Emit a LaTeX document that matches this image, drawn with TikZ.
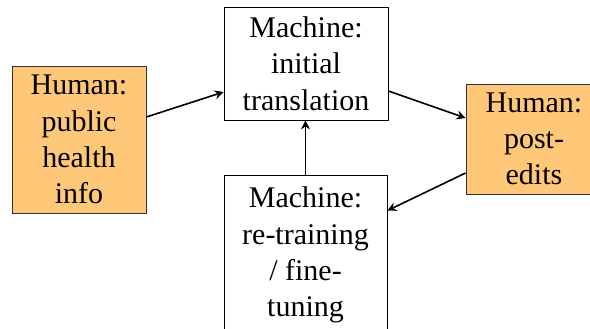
\documentclass[tikz,border=0pt]{standalone}
\usepackage{fontspec}
\setmainfont{Liberation Serif}
\usetikzlibrary{arrows.meta}
\definecolor{humanfill}{RGB}{255,199,120}
\tikzset{
  boxbase/.style={draw, align=center, inner sep=0pt,
    font=\fontsize{30}{36.3}\selectfont, line width=0.8pt},
  humanbox/.style={boxbase, fill=humanfill, draw=black!80},
  machinebox/.style={boxbase, fill=white, draw=black},
  flow/.style={-{Stealth[length=9pt,width=9pt,inset=3pt]}, line width=1.6pt, black}
}
\begin{document}
\begin{tikzpicture}[x=1pt,y=1pt]
\clip (0,0) rectangle (590,329);
\fill[white] (0,0) rectangle (590,329);
\node[humanbox, minimum width=134pt, minimum height=147pt] (hum1) at (79,189.5) {Human:\\public\\health\\info};
\node[machinebox, minimum width=164pt, minimum height=113pt] (mt) at (306,265.5) {Machine:\\initial\\translation};
\node[humanbox, minimum width=136pt, minimum height=110pt] (pe) at (534,190) {Human:\\post-\\edits};
\node[machinebox, minimum width=163pt, minimum height=160pt] (rt) at (305.5,74) {Machine:\\re-training\\/ fine-\\tuning};
\draw[flow] ([yshift=22.5pt]hum1.east) -- ([yshift=-28.5pt]mt.west);
\draw[flow] ([yshift=-27.5pt]mt.east) -- ([yshift=21pt]pe.west);
\draw[flow] ([yshift=-34pt]pe.west) -- ([yshift=-36pt]rt.north east);
\draw[flow] (rt.north) -- (rt.north |- mt.south);
\end{tikzpicture}
\end{document}
